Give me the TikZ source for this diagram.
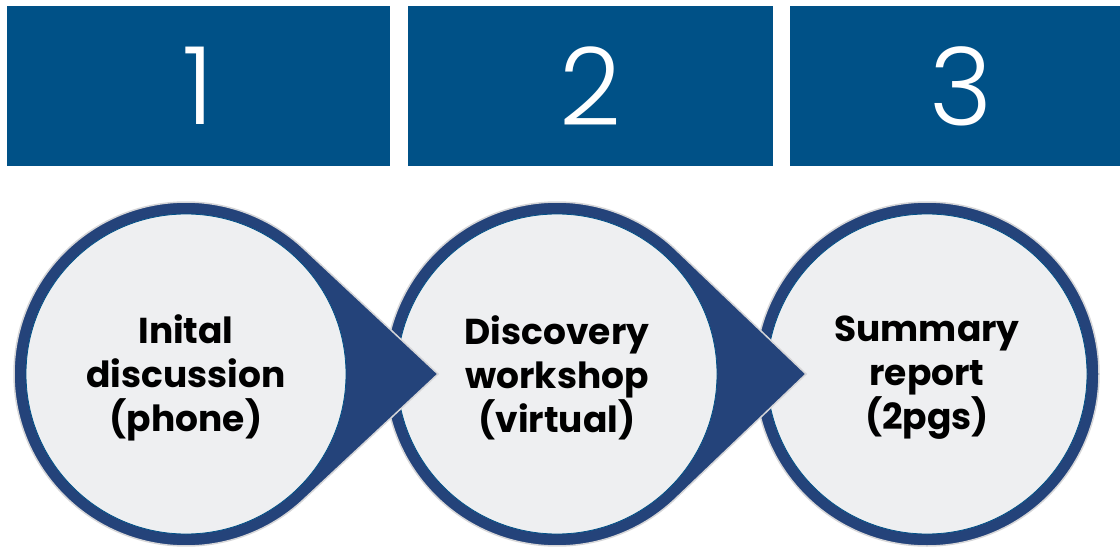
\documentclass[tikz,border=0pt]{standalone}
\usepackage{fontspec}
\setmainfont{Poppins}
\newfontfamily\numfont{Poppins}[UprightFont=* Light]
\definecolor{boxblue}{HTML}{005187}
\definecolor{ringblue}{HTML}{24437A}
\definecolor{discgray}{HTML}{EEEFF1}
\definecolor{halogray}{HTML}{D6D6D8}

\begin{document}
\begin{tikzpicture}[x=1pt,y=-1pt,
    numbox/.style={fill=boxblue, text=white, inner sep=0pt, font=\numfont\fontsize{108}{108}\selectfont},
    drop/.style={fill=ringblue, draw=halogray, line width=1.5pt},
    disc/.style={fill=discgray, draw=boxblue, line width=0.8pt},
    steptext/.style={align=center, yshift=-4pt, font=\bfseries\fontsize{36}{44}\selectfont}]

    \useasboundingbox (0,0) rectangle (1120,551);

    % Top boxes
    \node[numbox, minimum width=383pt, minimum height=160pt] (box1) at (198.5,86) {1};
    \node[numbox, minimum width=365pt, minimum height=160pt] (box2) at (590.5,86) {2};
    \node[numbox, minimum width=342pt, minimum height=160pt] (box3) at (961,86) {3};

    % Step 3
    \coordinate (c3) at (927,374);
    \filldraw[drop] (c3) circle (172);
    \filldraw[disc] (c3) circle (160);

    % Step 2
    \coordinate (c2) at (557,374);
    \coordinate (tip2) at (806,374);
    \filldraw[drop] (c2) ++(47:172) arc[start angle=47, end angle=313, radius=172] -- (tip2) -- cycle;
    \filldraw[disc] (c2) circle (160);

    % Step 1
    \coordinate (c1) at (186,374);
    \coordinate (tip1) at (438,374);
    \filldraw[drop] (c1) ++(47:172) arc[start angle=47, end angle=313, radius=172] -- (tip1) -- cycle;
    \filldraw[disc] (c1) circle (160);

    % Labels
    \node[steptext] (step1) at (c1) {Inital\\discussion\\(phone)};
    \node[steptext] (step2) at (c2) {Discovery\\workshop\\(virtual)};
    \node[steptext] (step3) at (c3) {Summary\\report\\(2pgs)};

\end{tikzpicture}
\end{document}
